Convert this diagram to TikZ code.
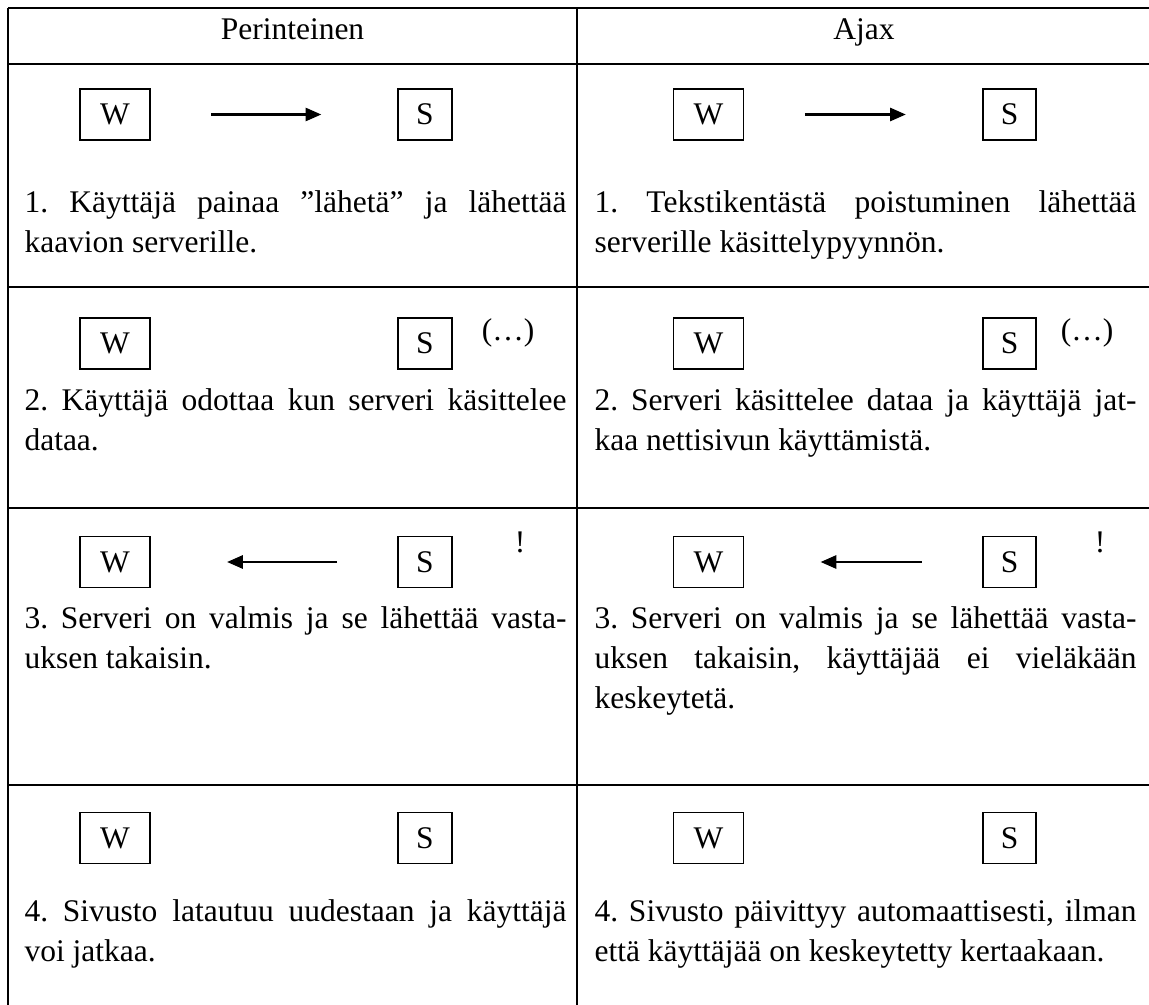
\documentclass[tikz,border=0pt]{standalone}
\usepackage{fontspec}
\setmainfont{Liberation Serif}
\usetikzlibrary{arrows.meta, positioning}
\hyphenpenalty=10000
\frenchspacing

\begin{document}
\begin{tikzpicture}[
  x=0.381pt, y=-0.381pt,
  font=\fontsize{12}{15.24}\selectfont,
  grid/.style={line width=1pt},
  box/.style={draw, line width=0.6pt, minimum height=19.4pt, inner sep=0pt},
  wbox/.style={box, minimum width=26.8pt},
  sbox/.style={box, minimum width=20.4pt},
  desc/.style={anchor=base west, inner sep=0pt, text width=206.5pt, align=justify},
  head/.style={anchor=base, inner sep=0pt},
  note/.style={inner sep=0pt},
  msg/.style={-{Triangle[length=6pt, width=5pt]}, line width=0.9pt,
              shorten <=23pt, shorten >=29pt},
]

\useasboundingbox (0,0) rectangle (1149,1005);

% Table
\foreach \y in {8,64,287,508,785}
  \draw[grid] (8,\y) -- (1149,\y);
\draw[grid] (8,8) -- (8,1005);
\draw[grid] (577,8) -- (577,1005);

\node[head] (hp) at (292.5,40) {Perinteinen};
\node[head] (ha) at (864,40) {Ajax};

% Perinteinen
\node[wbox] (pW1) at (115,114.5) {W};
\node[sbox] (pS1) at (425,114.5) {S};
\node[desc] (pT1) at (24,212) {1. Käyttäjä painaa ”lähetä” ja lähettää\linebreak kaavion serverille.};

\node[wbox] (pW2) at (115,343.5) {W};
\node[sbox] (pS2) at (425,343.5) {S};
\node[note] (pN2) at (508,333) {(…)};
\node[desc] (pT2) at (24,410) {2. Käyttäjä odottaa kun serveri käsittelee\linebreak dataa.};

\node[wbox] (pW3) at (115,562) {W};
\node[sbox] (pS3) at (425,562) {S};
\node[note] (pN3) at (520,542) {!};
\node[desc] (pT3) at (24,628) {3. Serveri on valmis ja se lähettää vasta-\linebreak uksen takaisin.};

\node[wbox] (pW4) at (115,838) {W};
\node[sbox] (pS4) at (425,838) {S};
\node[desc] (pT4) at (24,921) {4. Sivusto latautuu uudestaan ja käyttäjä\linebreak voi jatkaa.};

% Ajax
\node[wbox] (aW1) at (708.5,114.5) {W};
\node[sbox] (aS1) at (1009.5,114.5) {S};
\node[desc] (aT1) at (594,212) {1. Tekstikentästä poistuminen lähettää\linebreak serverille käsittelypyynnön.};

\node[wbox] (aW2) at (708.5,343.5) {W};
\node[sbox] (aS2) at (1009.5,343.5) {S};
\node[note] (aN2) at (1087,333) {(…)};
\node[desc] (aT2) at (594,410) {2. Serveri käsittelee dataa ja käyttäjä jat-\linebreak kaa nettisivun käyttämistä.};

\node[wbox] (aW3) at (708.5,562) {W};
\node[sbox] (aS3) at (1009.5,562) {S};
\node[note] (aN3) at (1100,542) {!};
\node[desc] (aT3) at (594,628) {3. Serveri on valmis ja se lähettää vasta-\linebreak uksen takaisin, käyttäjää ei vieläkään\linebreak keskeytetä.};

\node[wbox] (aW4) at (708.5,838) {W};
\node[sbox] (aS4) at (1009.5,838) {S};
\node[desc] (aT4) at (594,921) {4. Sivusto päivittyy automaattisesti, ilman\linebreak että käyttäjää on keskeytetty kertaakaan.};

% Messages
\draw[msg] (pW1) -- (pS1);
\draw[msg] (aW1) -- (aS1);
\draw[msg] (pS3) -- (pW3);
\draw[msg] (aS3) -- (aW3);

\end{tikzpicture}
\end{document}
